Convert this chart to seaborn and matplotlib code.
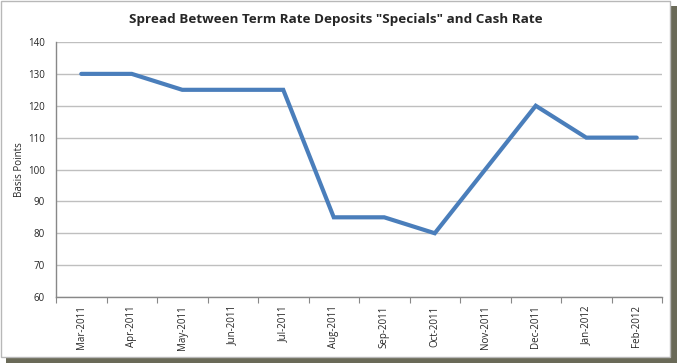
import matplotlib

matplotlib.use('Agg')
import matplotlib.pyplot as plt
from matplotlib.patches import Rectangle
import numpy as np
import seaborn as sns

months = ['Mar-2011', 'Apr-2011', 'May-2011', 'Jun-2011', 'Jul-2011', 'Aug-2011',
          'Sep-2011', 'Oct-2011', 'Nov-2011', 'Dec-2011', 'Jan-2012', 'Feb-2012']
spread = [130, 130, 125, 125, 125, 85, 85, 80, 100, 120, 110, 110]
y_ticks = [60, 70, 80, 90, 100, 110, 120, 130, 140]

sns.set_style('white')
plt.rcParams['font.family'] = ['Open Sans', 'DejaVu Sans']

fig = plt.figure(figsize=(6.77, 3.63), dpi=100)
W, H = 677, 363

# frame with drop shadow (screenshot look)
fig.patches.append(Rectangle((6 / W, 0), 671 / W, 7 / H, transform=fig.transFigure,
                             facecolor='#6a6a58', edgecolor='none', zorder=0))
fig.patches.append(Rectangle((670 / W, 0), 7 / W, 357 / H, transform=fig.transFigure,
                             facecolor='#6a6a58', edgecolor='none', zorder=0))
fig.patches.append(Rectangle((1 / W, 6 / H), 669 / W, 356 / H, transform=fig.transFigure,
                             facecolor='white', edgecolor='#b8b8b8', lw=1, zorder=1))

ax = fig.add_axes([56 / W, (H - 297) / H, (662 - 56) / W, (297 - 42) / H])
ax.set_zorder(2)
ax.patch.set_alpha(0)

x = np.arange(len(months))
sns.lineplot(x=x, y=spread, ax=ax, color='#4a7ebb', lw=3.0, solid_joinstyle='miter')

ax.set_ylim(60, 140)
ax.set_xlim(-0.5, len(months) - 0.5)
ax.set_yticks(y_ticks)
ax.set_yticklabels([str(v) for v in y_ticks], fontsize=7)
ax.grid(axis='y', color='#bfbfbf', lw=1)
ax.grid(axis='x', visible=False)

# ticks between categories, labels at centres
ax.set_xticks(np.arange(-0.5, len(months)), labels=[''] * (len(months) + 1))
ax.set_xticks(x, labels=months, minor=True, rotation=90, fontsize=7)
ax.tick_params(axis='x', which='major', length=4, color='#888888', direction='out', bottom=True)
ax.tick_params(axis='x', which='minor', length=0, pad=6)
ax.tick_params(axis='y', length=0, pad=8)

for s in ['top', 'right']:
    ax.spines[s].set_visible(False)
for s in ['left', 'bottom']:
    ax.spines[s].set_color('#888888')
    ax.spines[s].set_linewidth(1)

ax.set_ylabel('Basis Points', fontsize=7, labelpad=2)
ax.set_xlabel('')
fig.text(336 / W, 1 - 20 / H, 'Spread Between Term Rate Deposits "Specials" and Cash Rate',
         ha='center', va='center', fontsize=9.7, fontweight='bold')

fig.savefig('out.png', dpi=100)
